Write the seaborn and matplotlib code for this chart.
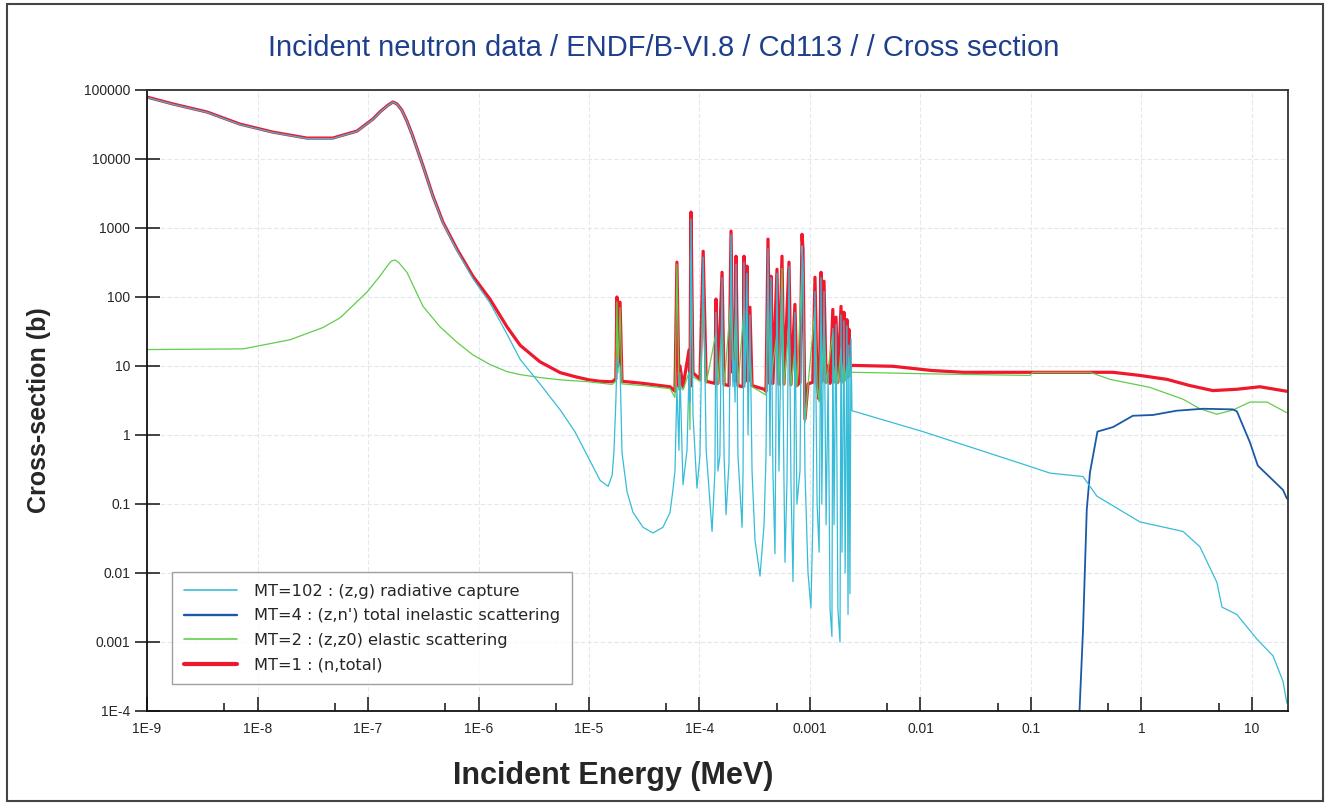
import seaborn as sns
import matplotlib.pyplot as plt
import pandas as pd
from matplotlib.patches import Rectangle

# Cd113 cross sections (energy in MeV, sigma in barns)

# thermal region (1E-9 .. 1E-5 MeV)
thermal_E = [1e-9, 1.72e-9, 3.49e-9, 6.95e-9, 1.38e-8, 2.8e-8, 4.8e-8, 7.95e-8, 1.11e-7,
             1.28e-7, 1.51e-7, 1.68e-7, 1.83e-7, 2.02e-7, 2.25e-7, 2.5e-7, 3.15e-7, 3.87e-7,
             4.77e-7, 6.4e-7, 8.9e-7, 1.27e-6, 1.81e-6, 2.38e-6, 3.6e-6, 5.5e-6, 7.5e-6, 1e-5]
thermal_total = [79000, 62700, 48000, 32000, 24500, 20100, 20100, 25400, 38000,
                 48000, 60000, 67000, 62700, 51300, 35500, 23000, 7900, 2900,
                 1210, 490, 200, 93, 37, 20, 11.5, 8, 7, 6.3]
thermal_capture = [78000, 62000, 47500, 31500, 24200, 19800, 19800, 25200, 37500,
                   47600, 59600, 66600, 62300, 51000, 35300, 22800, 7800, 2850,
                   1180, 470, 185, 82, 29, 12.5, 5.5, 2.3, 1.1, 0.55]
elastic_low_E = [1e-9, 7.4e-9, 1.97e-8, 3.9e-8, 5.6e-8, 9.8e-8, 1.28e-7, 1.49e-7, 1.62e-7,
                 1.75e-7, 1.9e-7, 2.25e-7, 3.15e-7, 4.48e-7, 6.4e-7, 8.9e-7, 1.27e-6, 1.81e-6,
                 2.38e-6, 3.6e-6, 5.5e-6]
elastic_low = [17.3, 17.7, 24, 36, 50, 118, 200, 280, 330,
               345, 315, 228, 73, 37, 22, 14.5, 10.5, 8.3,
               7.5, 6.8, 6.3]

# resolved resonance region (1E-5 .. 2.35E-3 MeV)
res_total_E = [1.26e-5, 1.62e-5, 1.75e-5, 1.79e-5, 1.83e-5, 1.91e-5, 1.99e-5, 3.08e-5, 5.41e-5,
               6.0e-5, 6.25e-5, 6.52e-5, 6.66e-5, 7.09e-5, 8.04e-5, 8.2e-5, 8.38e-5, 8.73e-5,
               1.01e-4, 1.08e-4, 1.15e-4, 1.38e-4, 1.41e-4, 1.47e-4, 1.60e-4, 1.67e-4, 1.85e-4,
               1.93e-4, 2.01e-4, 2.05e-4, 2.10e-4, 2.14e-4, 2.23e-4, 2.48e-4, 2.53e-4, 2.58e-4,
               2.69e-4, 2.75e-4, 2.86e-4, 2.99e-4, 3.84e-4, 4.00e-4, 4.17e-4, 4.35e-4, 4.44e-4,
               4.62e-4, 5.03e-4, 5.24e-4, 5.58e-4, 5.82e-4, 6.46e-4, 6.73e-4, 7.31e-4, 7.62e-4,
               8.12e-4, 8.47e-4, 8.65e-4, 9.01e-4, 9.60e-4, 1.06e-3, 1.11e-3, 1.16e-3, 1.21e-3,
               1.26e-3, 1.28e-3, 1.34e-3, 1.40e-3, 1.46e-3, 1.52e-3, 1.61e-3, 1.65e-3, 1.72e-3,
               1.79e-3, 1.91e-3, 1.95e-3, 2.03e-3, 2.08e-3, 2.16e-3, 2.21e-3, 2.25e-3, 2.30e-3,
               2.35e-3]
res_total = [6.0, 5.9, 6.5, 100, 10, 84, 6.0, 5.6, 5.0,
             4.3, 319, 5, 10, 5.0, 17, 5, 1700, 8,
             6.4, 460, 6.0, 5.6, 93, 5.6, 228, 5.4, 5.2,
             900, 8, 18, 6, 390, 5.2, 5.0, 390, 6,
             280, 6, 71, 5.2, 4.6, 4.3, 690, 5.5, 200,
             5.6, 252, 5.5, 390, 5.5, 319, 5.4, 78, 5.2,
             5.8, 810, 490, 1.7, 5.5, 5.8, 193, 5.5, 3.3,
             228, 6, 169, 5.8, 10, 5.6, 66, 6, 51,
             5.8, 73, 6, 60, 6.5, 47, 7, 34, 8,
             10.2]
res_elastic_E = [1e-5, 1.62e-5, 1.75e-5, 1.79e-5, 1.83e-5, 1.91e-5, 1.99e-5, 3.08e-5, 5.41e-5,
                 6.0e-5, 6.25e-5, 6.52e-5, 6.66e-5, 7.09e-5, 8.04e-5, 8.2e-5, 8.38e-5, 8.73e-5,
                 1.01e-4, 1.08e-4, 1.15e-4, 1.41e-4, 1.47e-4, 1.60e-4, 1.67e-4, 1.93e-4, 2.01e-4,
                 2.14e-4, 2.23e-4, 2.53e-4, 2.58e-4, 2.69e-4, 2.75e-4, 2.86e-4, 2.99e-4, 4.00e-4,
                 4.17e-4, 4.35e-4, 5.03e-4, 5.24e-4, 5.58e-4, 5.82e-4, 6.46e-4, 6.73e-4, 7.31e-4,
                 7.62e-4, 8.47e-4, 8.65e-4, 9.01e-4, 9.60e-4, 1.11e-3, 1.16e-3, 1.21e-3, 1.26e-3,
                 1.28e-3, 1.34e-3, 1.40e-3, 1.61e-3, 1.65e-3, 1.72e-3, 1.79e-3, 1.91e-3, 1.95e-3,
                 2.03e-3, 2.08e-3, 2.16e-3, 2.21e-3, 2.25e-3, 2.30e-3, 2.35e-3]
res_elastic = [5.9, 5.4, 6, 85, 8, 70, 5.5, 5.2, 4.7,
               3.5, 300, 4.5, 5, 4.5, 8, 1.2, 350, 7,
               6.0, 80, 5.6, 30, 5.3, 40, 5.1, 100, 6,
               90, 5, 70, 5.5, 60, 5.5, 15, 5, 3.8,
               190, 5.2, 30, 5.2, 260, 5.2, 40, 5.1, 18,
               5, 260, 200, 1.5, 5.2, 70, 5.2, 3.0, 40,
               5.5, 50, 5.5, 30, 5.6, 12, 5.5, 18, 5.6,
               15, 6, 10, 6.5, 14, 7.5, 8.1]
res_capture_E = [1.26e-5, 1.49e-5, 1.62e-5, 1.68e-5, 1.75e-5, 1.79e-5, 1.91e-5, 1.99e-5, 2.21e-5,
                 2.50e-5, 3.08e-5, 3.79e-5, 4.67e-5, 5.41e-5, 5.75e-5, 6.0e-5, 6.25e-5, 6.52e-5,
                 6.66e-5, 7.09e-5, 7.71e-5, 8.04e-5, 8.2e-5, 8.38e-5, 8.73e-5, 9.49e-5, 1.01e-4,
                 1.08e-4, 1.15e-4, 1.30e-4, 1.38e-4, 1.41e-4, 1.47e-4, 1.53e-4, 1.60e-4, 1.67e-4,
                 1.74e-4, 1.85e-4, 1.93e-4, 2.01e-4, 2.05e-4, 2.10e-4, 2.14e-4, 2.23e-4, 2.43e-4,
                 2.48e-4, 2.53e-4, 2.58e-4, 2.69e-4, 2.75e-4, 2.86e-4, 2.99e-4, 3.18e-4, 3.53e-4,
                 3.84e-4, 4.00e-4, 4.17e-4, 4.35e-4, 4.44e-4, 4.62e-4, 4.82e-4, 5.03e-4, 5.24e-4,
                 5.58e-4, 5.82e-4, 5.94e-4, 6.19e-4, 6.46e-4, 6.73e-4, 7.02e-4, 7.16e-4, 7.31e-4,
                 7.62e-4, 8.12e-4, 8.47e-4, 8.65e-4, 9.01e-4, 9.60e-4, 1.02e-3, 1.06e-3, 1.11e-3,
                 1.16e-3, 1.21e-3, 1.26e-3, 1.28e-3, 1.34e-3, 1.40e-3, 1.46e-3, 1.52e-3, 1.58e-3,
                 1.61e-3, 1.65e-3, 1.72e-3, 1.79e-3, 1.87e-3, 1.91e-3, 1.95e-3, 2.03e-3, 2.08e-3,
                 2.16e-3, 2.21e-3, 2.25e-3, 2.30e-3, 2.35e-3]
res_capture = [0.22, 0.18, 0.26, 0.55, 3, 12.5, 10, 0.55, 0.15,
               0.076, 0.046, 0.038, 0.046, 0.075, 0.16, 0.3, 5, 0.6,
               8, 0.19, 0.6, 8, 3, 1350, 2, 0.17, 0.5,
               380, 0.6, 0.04, 0.3, 60, 0.3, 0.5, 190, 0.5,
               0.07, 0.4, 800, 5, 12, 3, 300, 0.5, 0.046,
               0.3, 320, 5, 220, 1, 55, 0.3, 0.03, 0.009,
               0.05, 0.5, 500, 0.5, 190, 0.3, 0.019, 220, 0.3,
               130, 0.2, 0.0143, 0.2, 280, 0.2, 0.0075, 0.1, 60,
               0.1, 0.3, 550, 300, 0.3, 0.01, 0.0031, 0.05, 120,
               0.1, 0.02, 190, 0.1, 120, 0.05, 8, 0.003, 0.0012,
               35, 0.05, 40, 0.003, 0.001, 55, 0.02, 45, 0.01,
               38, 0.0025, 20, 0.005, 25]

# fast region (2.4E-3 .. 20 MeV)
fast_total_E = [2.40e-3, 5.64e-3, 1.27e-2, 2.43e-2, 0.552, 0.968, 1.70, 2.75, 4.43, 7.31, 11.8, 20.7]
fast_total = [10.2, 9.9, 8.6, 8.1, 8.1, 7.3, 6.4, 5.2, 4.4, 4.6, 5.0, 4.3]
fast_elastic_E = [2.40e-3, 1.85e-2, 9.8e-2, 0.104, 0.342, 0.519, 1.19, 2.38, 3.38, 4.82, 6.73, 9.6, 13.7, 20.7]
fast_elastic = [8.1, 7.6, 7.3, 8.1, 8.1, 6.4, 4.9, 3.3, 2.4, 2.0, 2.3, 3.0, 3.0, 2.1]
fast_capture_E = [2.40e-3, 1.05e-2, 9.8e-2, 0.149, 0.296, 0.395, 0.968, 2.38, 3.38, 4.82, 5.36, 7.31,
                  11.1, 15.5, 19.1, 20.7]
fast_capture = [2.25, 1.12, 0.35, 0.28, 0.25, 0.13, 0.055, 0.040, 0.024, 0.0073, 0.0032, 0.0025,
                0.0011, 0.00063, 0.00027, 0.00013]
inelastic_E = [0.27, 0.296, 0.32, 0.342, 0.40, 0.552, 0.837, 1.27, 2.09, 3.61, 6.73, 7.31, 9.6, 11.3, 19.1, 20.7]
inelastic = [5e-5, 0.0015, 0.083, 0.286, 1.12, 1.3, 1.9, 1.95, 2.25, 2.4, 2.35, 2.2, 0.78, 0.36, 0.16, 0.12]

x_ticks = [1e-9, 1e-8, 1e-7, 1e-6, 1e-5, 1e-4, 1e-3, 1e-2, 1e-1, 1, 10]
x_tick_labels = ["1E-9", "1E-8", "1E-7", "1E-6", "1E-5", "1E-4", "0.001", "0.01", "0.1", "1", "10"]
x_minor = [5e-9, 5e-8, 5e-7, 5e-6, 5e-5, 5e-4, 5e-3, 5e-2, 0.5, 5]
y_ticks = [1e-4, 1e-3, 1e-2, 1e-1, 1, 10, 100, 1000, 10000, 100000]
y_tick_labels = ["1E-4", "0.001", "0.01", "0.1", "1", "10", "100", "1000", "10000", "100000"]

total = pd.DataFrame({"E": thermal_E + res_total_E + fast_total_E,
                      "xs": thermal_total + res_total + fast_total})
elastic = pd.DataFrame({"E": elastic_low_E + res_elastic_E + fast_elastic_E,
                        "xs": elastic_low + res_elastic + fast_elastic})
capture = pd.DataFrame({"E": thermal_E[:-1] + res_capture_E + fast_capture_E,
                        "xs": thermal_capture[:-1] + res_capture + fast_capture})
inel = pd.DataFrame({"E": inelastic_E, "xs": inelastic})

sns.set_style("white")
plt.rcParams['font.family'] = ['Liberation Sans', 'DejaVu Sans']

fig = plt.figure(figsize=(13.27, 8.05), dpi=100)
ax = fig.add_axes([0.1108, 0.1168, 0.8598, 0.7714])

sns.lineplot(data=total, x="E", y="xs", color="#f0182c", linewidth=2.3, estimator=None,
             label="MT=1 : (n,total)", ax=ax)
sns.lineplot(data=elastic, x="E", y="xs", color="#62cc4c", linewidth=0.9, estimator=None,
             label="MT=2 : (z,z0) elastic scattering", ax=ax)
sns.lineplot(data=inel, x="E", y="xs", color="#1a58a8", linewidth=1.3, estimator=None,
             label="MT=4 : (z,n') total inelastic scattering", ax=ax)
sns.lineplot(data=capture, x="E", y="xs", color="#36bcd8", linewidth=0.9, estimator=None,
             label="MT=102 : (z,g) radiative capture", ax=ax)

ax.set_xscale("log")
ax.set_yscale("log")
ax.set_xticks(x_ticks, x_tick_labels)
ax.set_yticks(y_ticks, y_tick_labels)
ax.set_xticks(x_minor, minor=True)
ax.set_xticklabels([], minor=True)
ax.yaxis.set_minor_locator(plt.NullLocator())
ax.set_xlim(1e-9, 21.2)
ax.set_ylim(1e-4, 1e5)
ax.tick_params(which="both", bottom=True, left=True)
ax.tick_params(axis="x", which="major", direction="in", length=10, width=1.1, labelsize=10,
               pad=8, color="#111111")
ax.tick_params(axis="x", which="minor", direction="in", length=6, width=1.1, color="#111111")
ax.tick_params(axis="y", which="major", direction="inout", length=18, width=1.1, labelsize=10,
               pad=3, color="#111111")
ax.grid(True, which="major", color="#e2e8f0", linestyle=(0, (4, 2)), linewidth=0.8)
for side in ["left", "bottom"]:
    ax.spines[side].set_color("#111111")
    ax.spines[side].set_linewidth(1.3)
for side in ["top", "right"]:
    ax.spines[side].set_color("#333333")
    ax.spines[side].set_linewidth(1.3)

ax.set_xlabel("Incident Energy (MeV)", fontsize=22, fontweight="bold")
ax.xaxis.set_label_coords(0.409, -0.08)
ax.set_ylabel("Cross-section (b)", fontsize=18, fontweight="bold")
ax.yaxis.set_label_coords(-0.084, 0.484)
fig.text(0.5, 0.94, "Incident neutron data / ENDF/B-VI.8 / Cd113 / / Cross section",
         ha="center", va="center", fontsize=21, color="#1e3f8c")

h, l = ax.get_legend_handles_labels()
leg = ax.legend(h[::-1], l[::-1], loc="lower left", bbox_to_anchor=(0.022, 0.043),
                borderaxespad=0, prop={"family": "DejaVu Sans", "size": 11.7},
                frameon=True, fancybox=False, handlelength=3.3,
                labelspacing=0.6, borderpad=0.7, handletextpad=1.05)
leg.get_frame().set_edgecolor("#888888")
leg.get_frame().set_linewidth(1.0)
for line in leg.get_lines():
    line.set_linewidth(line.get_linewidth() * 1.3)

fig.add_artist(Rectangle((0.0053, 0.005), 0.9917, 0.990, transform=fig.transFigure,
                         fill=False, edgecolor="#444444", linewidth=1.5))

fig.savefig("out.png", dpi=100)
